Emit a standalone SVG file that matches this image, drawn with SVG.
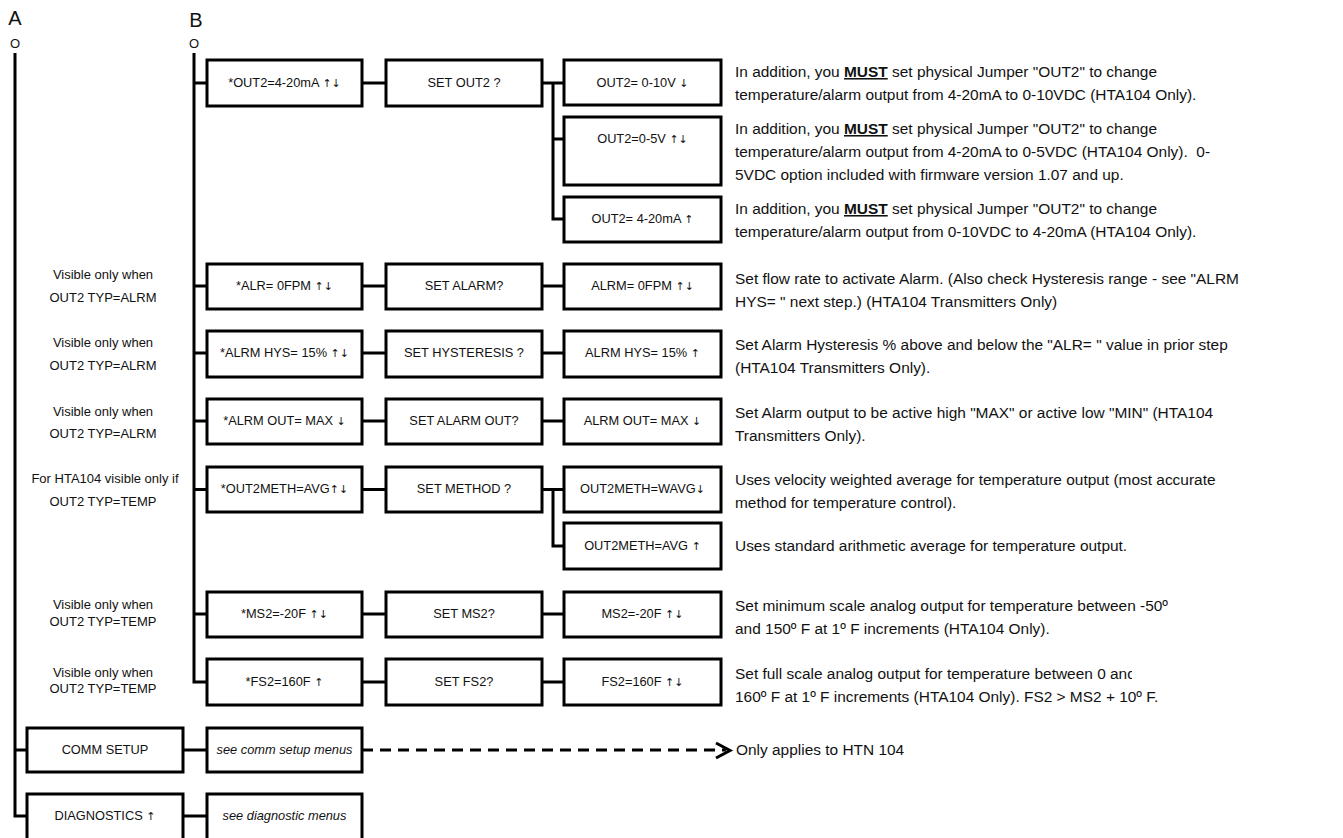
<svg xmlns="http://www.w3.org/2000/svg" width="1343" height="838" viewBox="0 0 1343 838">
  <defs>
    <style>
      .box { fill: #fff; stroke: #000; stroke-width: 3; }
      .wire { fill: none; stroke: #000; stroke-width: 3; }
      .dash { fill: none; stroke: #000; stroke-width: 3; stroke-dasharray: 11 7; }
      text { font-family: "Liberation Sans", Arial, sans-serif; fill: #111; }
      .bt { font-size: 12.8px; text-anchor: middle; }
      .ar { font-family: "DejaVu Sans", sans-serif; font-size: 11px; }
      .it { font-style: italic; }
      .note { font-size: 13px; text-anchor: middle; }
      .desc { font-size: 15.45px; white-space: pre; }
      .must { font-weight: bold; text-decoration: underline; }
      .bus { font-size: 20px; text-anchor: middle; }
      .tap { font-size: 13px; text-anchor: middle; }
    </style>
    <clipPath id="fs2clip">
      <rect x="700" y="650" width="432" height="40"/>
    </clipPath>
  </defs>

  <rect width="1343" height="838" fill="#fff"/>

  <!-- bus labels -->
  <g id="busA">
    <text class="bus" x="15" y="25">A</text>
    <text class="tap" x="15" y="48">O</text>
  </g>
  <g id="busB">
    <text class="bus" x="196" y="27">B</text>
    <text class="tap" x="194" y="48">O</text>
  </g>

  <!-- connectors -->
  <g id="connectors">
    <!-- bus A -->
    <path class="wire" d="M15 53 V816 H27 M15 750 H27"/>
    <!-- bus B -->
    <path class="wire" d="M194 53 V682 H207 M194 83 H207 M194 286 H207 M194 353 H207 M194 421 H207 M194 489.5 H207 M194 614 H207"/>
    <!-- column 1 to column 2 -->
    <path class="wire" d="M362 83 H386 M362 286 H386 M362 353 H386 M362 421 H386 M362 489.5 H386 M362 614 H386 M362 682 H386"/>
    <!-- column 2 to column 3 -->
    <path class="wire" d="M542 83 H564 M553 83 V219 H564 M553 139 H564"/>
    <path class="wire" d="M542 286 H564 M542 353 H564 M542 421 H564 M542 614 H564 M542 682 H564"/>
    <path class="wire" d="M542 489.5 H564 M553 489.5 V546 H564"/>
    <!-- setup rows -->
    <path class="wire" d="M183 750 H207 M183 816 H207"/>
    <path class="dash" d="M362 750 H726"/>
    <polyline class="wire" points="716,743 730,750.5 716,758"/>
  </g>

  <!-- row: OUT2 output -->
  <g id="out2">
    <rect class="box" x="207" y="60" width="155" height="46"/>
    <text class="bt" x="284.5" y="87">*OUT2=4-20mA <tspan class="ar">↑↓</tspan></text>
  </g>
  <g id="setOut2">
    <rect class="box" x="386" y="60" width="156" height="46"/>
    <text class="bt" x="464" y="87">SET OUT2 ?</text>
  </g>
  <g id="out2_10v">
    <rect class="box" x="564" y="60" width="157" height="45"/>
    <text class="bt" x="642.5" y="87">OUT2= 0-10V <tspan class="ar">↓</tspan></text>
  </g>
  <g id="out2_5v">
    <rect class="box" x="564" y="117" width="157" height="68"/>
    <text class="bt" x="642.5" y="143">OUT2=0-5V <tspan class="ar">↑↓</tspan></text>
  </g>
  <g id="out2_420">
    <rect class="box" x="564" y="197" width="157" height="45"/>
    <text class="bt" x="642.5" y="223">OUT2= 4-20mA <tspan class="ar">↑</tspan></text>
  </g>

  <!-- row: alarm -->
  <g id="alr">
    <rect class="box" x="207" y="264" width="155" height="45"/>
    <text class="bt" x="284.5" y="290">*ALR= 0FPM <tspan class="ar">↑↓</tspan></text>
  </g>
  <g id="setAlarm">
    <rect class="box" x="386" y="264" width="156" height="45"/>
    <text class="bt" x="464" y="290">SET ALARM?</text>
  </g>
  <g id="alrm">
    <rect class="box" x="564" y="264" width="157" height="45"/>
    <text class="bt" x="642.5" y="290">ALRM= 0FPM <tspan class="ar">↑↓</tspan></text>
  </g>

  <!-- row: hysteresis -->
  <g id="hys">
    <rect class="box" x="207" y="331" width="155" height="46"/>
    <text class="bt" x="284.5" y="357">*ALRM HYS= 15% <tspan class="ar">↑↓</tspan></text>
  </g>
  <g id="setHys">
    <rect class="box" x="386" y="331" width="156" height="46"/>
    <text class="bt" x="464" y="357">SET HYSTERESIS ?</text>
  </g>
  <g id="alrmHys">
    <rect class="box" x="564" y="331" width="157" height="46"/>
    <text class="bt" x="642.5" y="357">ALRM HYS= 15% <tspan class="ar">↑</tspan></text>
  </g>

  <!-- row: alarm output -->
  <g id="alrmOut">
    <rect class="box" x="207" y="399" width="155" height="45"/>
    <text class="bt" x="284.5" y="425">*ALRM OUT= MAX <tspan class="ar">↓</tspan></text>
  </g>
  <g id="setAlarmOut">
    <rect class="box" x="386" y="399" width="156" height="45"/>
    <text class="bt" x="464" y="425">SET ALARM OUT?</text>
  </g>
  <g id="alrmOutMax">
    <rect class="box" x="564" y="399" width="157" height="45"/>
    <text class="bt" x="642.5" y="425">ALRM OUT= MAX <tspan class="ar">↓</tspan></text>
  </g>

  <!-- row: averaging method -->
  <g id="meth">
    <rect class="box" x="207" y="467" width="155" height="45"/>
    <text class="bt" x="284.5" y="493">*OUT2METH=AVG<tspan class="ar">↑↓</tspan></text>
  </g>
  <g id="setMethod">
    <rect class="box" x="386" y="467" width="156" height="45"/>
    <text class="bt" x="464" y="493">SET METHOD ?</text>
  </g>
  <g id="methWavg">
    <rect class="box" x="564" y="467" width="157" height="45"/>
    <text class="bt" x="642.5" y="493">OUT2METH=WAVG<tspan class="ar">↓</tspan></text>
  </g>
  <g id="methAvg">
    <rect class="box" x="564" y="523" width="157" height="46"/>
    <text class="bt" x="642.5" y="550">OUT2METH=AVG <tspan class="ar">↑</tspan></text>
  </g>

  <!-- row: minimum scale -->
  <g id="ms2">
    <rect class="box" x="207" y="592" width="155" height="45"/>
    <text class="bt" x="284.5" y="618">*MS2=-20F <tspan class="ar">↑↓</tspan></text>
  </g>
  <g id="setMs2">
    <rect class="box" x="386" y="592" width="156" height="45"/>
    <text class="bt" x="464" y="618">SET MS2?</text>
  </g>
  <g id="ms2Val">
    <rect class="box" x="564" y="592" width="157" height="45"/>
    <text class="bt" x="642.5" y="618">MS2=-20F <tspan class="ar">↑↓</tspan></text>
  </g>

  <!-- row: full scale -->
  <g id="fs2">
    <rect class="box" x="207" y="659" width="155" height="46"/>
    <text class="bt" x="284.5" y="686">*FS2=160F <tspan class="ar">↑</tspan></text>
  </g>
  <g id="setFs2">
    <rect class="box" x="386" y="659" width="156" height="46"/>
    <text class="bt" x="464" y="686">SET FS2?</text>
  </g>
  <g id="fs2Val">
    <rect class="box" x="564" y="659" width="157" height="46"/>
    <text class="bt" x="642.5" y="686">FS2=160F <tspan class="ar">↑↓</tspan></text>
  </g>

  <!-- setup rows on bus A -->
  <g id="commSetup">
    <rect class="box" x="27" y="728" width="156" height="44"/>
    <text class="bt" x="105" y="754">COMM SETUP</text>
  </g>
  <g id="commMenus">
    <rect class="box" x="207" y="728" width="155" height="44"/>
    <text class="bt it" x="284.5" y="754">see comm setup menus</text>
  </g>
  <g id="diagnostics">
    <rect class="box" x="27" y="794" width="156" height="50"/>
    <text class="bt" x="105" y="820">DIAGNOSTICS <tspan class="ar">↑</tspan></text>
  </g>
  <g id="diagMenus">
    <rect class="box" x="207" y="794" width="155" height="50"/>
    <text class="bt it" x="284.5" y="820">see diagnostic menus</text>
  </g>

  <!-- visibility notes -->
  <g id="notes">
    <text class="note" x="103" y="279">Visible only when</text>
    <text class="note" x="103" y="302">OUT2 TYP=ALRM</text>
    <text class="note" x="103" y="347">Visible only when</text>
    <text class="note" x="103" y="370">OUT2 TYP=ALRM</text>
    <text class="note" x="103" y="416">Visible only when</text>
    <text class="note" x="103" y="438">OUT2 TYP=ALRM</text>
    <text class="note" x="105" y="483">For HTA104 visible only if</text>
    <text class="note" x="103" y="506">OUT2 TYP=TEMP</text>
    <text class="note" x="103" y="609">Visible only when</text>
    <text class="note" x="103" y="626">OUT2 TYP=TEMP</text>
    <text class="note" x="103" y="677">Visible only when</text>
    <text class="note" x="103" y="693">OUT2 TYP=TEMP</text>
  </g>

  <!-- descriptions -->
  <g id="descriptions">
    <text class="desc" x="735" y="77">In addition, you <tspan class="must">MUST</tspan> set physical Jumper "OUT2" to change</text>
    <text class="desc" x="735" y="100">temperature/alarm output from 4-20mA to 0-10VDC (HTA104 Only).</text>

    <text class="desc" x="735" y="134">In addition, you <tspan class="must">MUST</tspan> set physical Jumper "OUT2" to change</text>
    <text class="desc" x="735" y="157">temperature/alarm output from 4-20mA to 0-5VDC (HTA104 Only).  0-</text>
    <text class="desc" x="735" y="180">5VDC option included with firmware version 1.07 and up.</text>

    <text class="desc" x="735" y="214">In addition, you <tspan class="must">MUST</tspan> set physical Jumper "OUT2" to change</text>
    <text class="desc" x="735" y="237">temperature/alarm output from 0-10VDC to 4-20mA (HTA104 Only).</text>

    <text class="desc" x="735" y="284">Set flow rate to activate Alarm. (Also check Hysteresis range - see "ALRM</text>
    <text class="desc" x="735" y="307">HYS= " next step.) (HTA104 Transmitters Only)</text>

    <text class="desc" x="735" y="350">Set Alarm Hysteresis % above and below the "ALR= " value in prior step</text>
    <text class="desc" x="735" y="373">(HTA104 Transmitters Only).</text>

    <text class="desc" x="735" y="418">Set Alarm output to be active high "MAX" or active low "MIN" (HTA104</text>
    <text class="desc" x="735" y="441">Transmitters Only).</text>

    <text class="desc" x="735" y="485">Uses velocity weighted average for temperature output (most accurate</text>
    <text class="desc" x="735" y="508">method for temperature control).</text>

    <text class="desc" x="735" y="551">Uses standard arithmetic average for temperature output.</text>

    <text class="desc" x="735" y="611">Set minimum scale analog output for temperature between -50º</text>
    <text class="desc" x="735" y="634">and 150º F at 1º F increments (HTA104 Only).</text>

    <text class="desc" x="735" y="679" clip-path="url(#fs2clip)">Set full scale analog output for temperature between 0 and</text>
    <text class="desc" x="735" y="702">160º F at 1º F increments (HTA104 Only). FS2 &gt; MS2 + 10º F.</text>

    <text class="desc" x="736" y="755">Only applies to HTN 104</text>
  </g>
</svg>
